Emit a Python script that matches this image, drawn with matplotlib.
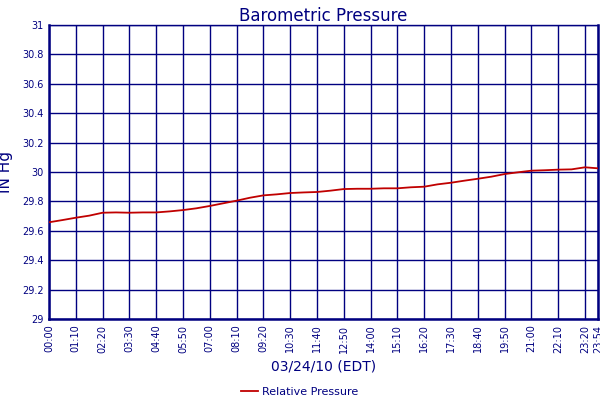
import matplotlib
matplotlib.use("Agg")
import matplotlib.pyplot as plt

minutes = [0, 35, 70, 105, 140, 175, 210, 245, 280, 315, 350, 385, 420, 455, 490,
           525, 560, 595, 630, 665, 700, 735, 770, 805, 840, 875, 910, 945, 980,
           1015, 1050, 1085, 1120, 1155, 1190, 1225, 1260, 1295, 1330, 1365, 1400, 1434]
pressure = [29.658, 29.673, 29.689, 29.703, 29.723, 29.725, 29.723, 29.725, 29.725,
            29.732, 29.741, 29.753, 29.769, 29.787, 29.805, 29.825, 29.841, 29.848,
            29.857, 29.861, 29.864, 29.873, 29.884, 29.886, 29.886, 29.889, 29.889,
            29.896, 29.900, 29.916, 29.927, 29.941, 29.954, 29.968, 29.986, 29.998,
            30.009, 30.012, 30.016, 30.018, 30.032, 30.025]

tick_minutes = list(range(0, 1434, 70)) + [1434]
tick_labels = ["%02d:%02d" % (m // 60, m % 60) for m in tick_minutes]
y_ticks = [29, 29.2, 29.4, 29.6, 29.8, 30, 30.2, 30.4, 30.6, 30.8, 31]
y_labels = ["29", "29.2", "29.4", "29.6", "29.8", "30", "30.2", "30.4", "30.6", "30.8", "31"]

navy = "#000080"
red = "#c00000"

fig = plt.figure(figsize=(6, 4), dpi=100)
ax = fig.add_axes([49 / 600, 1 - 319 / 400, 549 / 600, 294 / 400])
ax.plot(minutes, pressure, color=red, linewidth=1.3, label="Relative Pressure", zorder=3)
ax.set_xlim(0, 1434)
ax.set_ylim(29, 31)
ax.set_xticks(tick_minutes)
ax.set_xticklabels(tick_labels, rotation=90, fontsize=7, color=navy)
ax.set_yticks(y_ticks)
ax.set_yticklabels(y_labels, fontsize=7, color=navy)
ax.tick_params(length=0, pad=4)
ax.grid(True, color=navy, linewidth=1.0)
ax.set_axisbelow(True)
for side in ["left", "bottom", "right"]:
    ax.spines[side].set_color(navy)
    ax.spines[side].set_linewidth(1.8)
ax.spines["top"].set_color(navy)
ax.spines["top"].set_linewidth(1.0)

ax.set_title("Barometric Pressure", fontsize=12, color=navy, pad=3)
ax.set_ylabel("IN Hg", fontsize=11, color=navy, labelpad=6)
ax.set_xlabel("03/24/10 (EDT)", fontsize=10, color=navy, labelpad=5)

leg = fig.legend(loc="lower center", bbox_to_anchor=(0.5, -0.018), frameon=False,
                 fontsize=8, handlelength=1.5, handletextpad=0.4)
for t in leg.get_texts():
    t.set_color(navy)

fig.savefig("out.png", dpi=100)
